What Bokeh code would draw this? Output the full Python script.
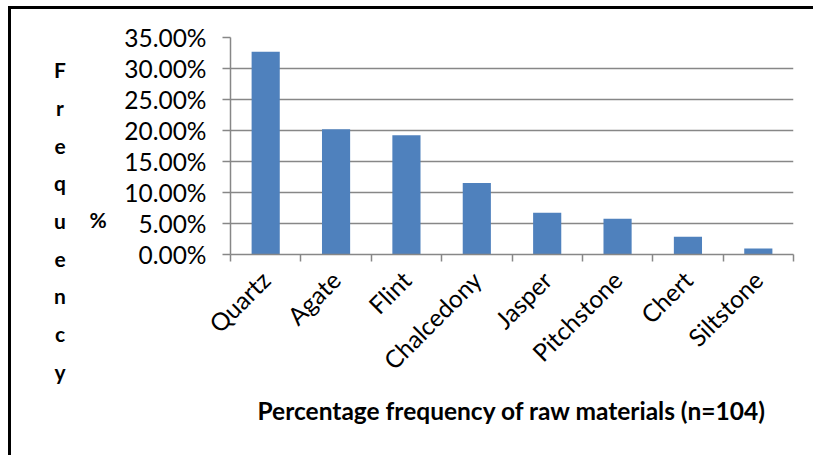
import math
from bokeh.plotting import figure
from bokeh.layouts import row
from bokeh.models import Range1d, FixedTicker, NumeralTickFormatter, Div
from bokeh.embed import file_html
from bokeh.resources import INLINE

# ---- data ----
materials = ["Quartz", "Agate", "Flint", "Chalcedony", "Jasper", "Pitchstone", "Chert", "Siltstone"]
percent = [0.3269, 0.2019, 0.1923, 0.1154, 0.0673, 0.0577, 0.0288, 0.0096]
y_ticks = [0.0, 0.05, 0.10, 0.15, 0.20, 0.25, 0.30, 0.35]
y_title_letters = list("Frequency")
y_title_unit = "%"
x_title = "Percentage frequency of raw materials (n=104)"

FONT = "Lato"
GRAY = "#878787"
BAR = "#4F81BD"

W, H = 813, 455
LW = 120                      # width of the left strip holding the stacked y title
FL, FR, FT, FB = 230, 793, 37, 254  # chart frame edges in page px

# ---------------- left strip: stacked y-axis title ----------------
LINE = 37.7
FS = "21px"
letters_html = "<br>".join(y_title_letters)
txt = f"font-family:{FONT};font-weight:bold;font-size:{FS};color:#000;"
html = (
    f'<div style="position:relative;width:{LW}px;height:{H}px;">'
    f'<div style="position:absolute;left:40px;top:{70 - LINE / 2:.1f}px;width:40px;'
    f'text-align:center;line-height:{LINE}px;{txt}">{letters_html}</div>'
    f'<div style="position:absolute;left:78px;top:{220 - LINE / 2:.1f}px;width:40px;'
    f'text-align:center;line-height:{LINE}px;{txt}">{y_title_unit}</div>'
    f'</div>'
)
t = Div(text=html, width=LW, height=H,
        styles={"box-shadow": "inset 8px 6px 0 0 #fff, inset 11px 9px 0 0 #000",
                "margin": "0", "padding": "0"})

# ---------------- main chart ----------------
MW = W - LW
p = figure(width=MW, height=H,
           x_range=Range1d(-0.5, len(materials) - 0.5),
           y_range=Range1d(0, 0.35),
           output_backend="svg", toolbar_location=None,
           min_border_left=FL - LW, min_border_right=W - FR,
           min_border_top=FT, min_border_bottom=H - FB)
p.border_fill_color = None
p.background_fill_color = "white"
p.outline_line_color = None
p.styles = {"box-shadow": "inset 0 6px 0 0 #fff, inset 0 9px 0 0 #000"}

xs = list(range(len(materials)))
p.vbar(x=xs, top=percent, width=0.4, fill_color=BAR, line_color=None)

# grid
p.xgrid.visible = False
p.ygrid.ticker = FixedTicker(ticks=y_ticks)
p.ygrid.grid_line_color = GRAY
p.ygrid.grid_line_width = 1.5

# y axis
ya = p.yaxis[0]
ya.ticker = FixedTicker(ticks=y_ticks)
ya.formatter = NumeralTickFormatter(format="0.00%")
ya.axis_line_color = GRAY
ya.axis_line_width = 1.5
ya.major_tick_line_color = GRAY
ya.major_tick_line_width = 1.5
ya.major_tick_out = 8
ya.major_tick_in = 0
ya.minor_tick_line_color = None
ya.major_label_standoff = 16
ya.major_label_text_font = FONT
ya.major_label_text_font_size = "24.5px"
ya.major_label_text_color = "black"

# x axis
xa = p.xaxis[0]
xa.ticker = FixedTicker(ticks=xs, minor_ticks=[i - 0.5 for i in range(len(materials) + 1)])
xa.major_label_overrides = {i: m for i, m in enumerate(materials)}
xa.major_label_orientation = math.pi / 4
xa.axis_line_color = GRAY
xa.axis_line_width = 1.5
xa.major_tick_line_color = None
xa.major_tick_out = 0
xa.major_tick_in = 0
xa.minor_tick_line_color = GRAY
xa.minor_tick_line_width = 1.5
xa.minor_tick_out = 7
xa.minor_tick_in = 0
xa.major_label_standoff = 14
xa.major_label_text_font = FONT
xa.major_label_text_font_size = "24.5px"
xa.major_label_text_color = "black"
xa.axis_label = x_title
xa.axis_label_text_font = FONT
xa.axis_label_text_font_size = "24.5px"
xa.axis_label_text_font_style = "bold"
xa.axis_label_text_color = "black"
xa.axis_label_standoff = 8

layout = row(t, p, spacing=0)
open("out.html", "w").write(file_html(layout, INLINE))
